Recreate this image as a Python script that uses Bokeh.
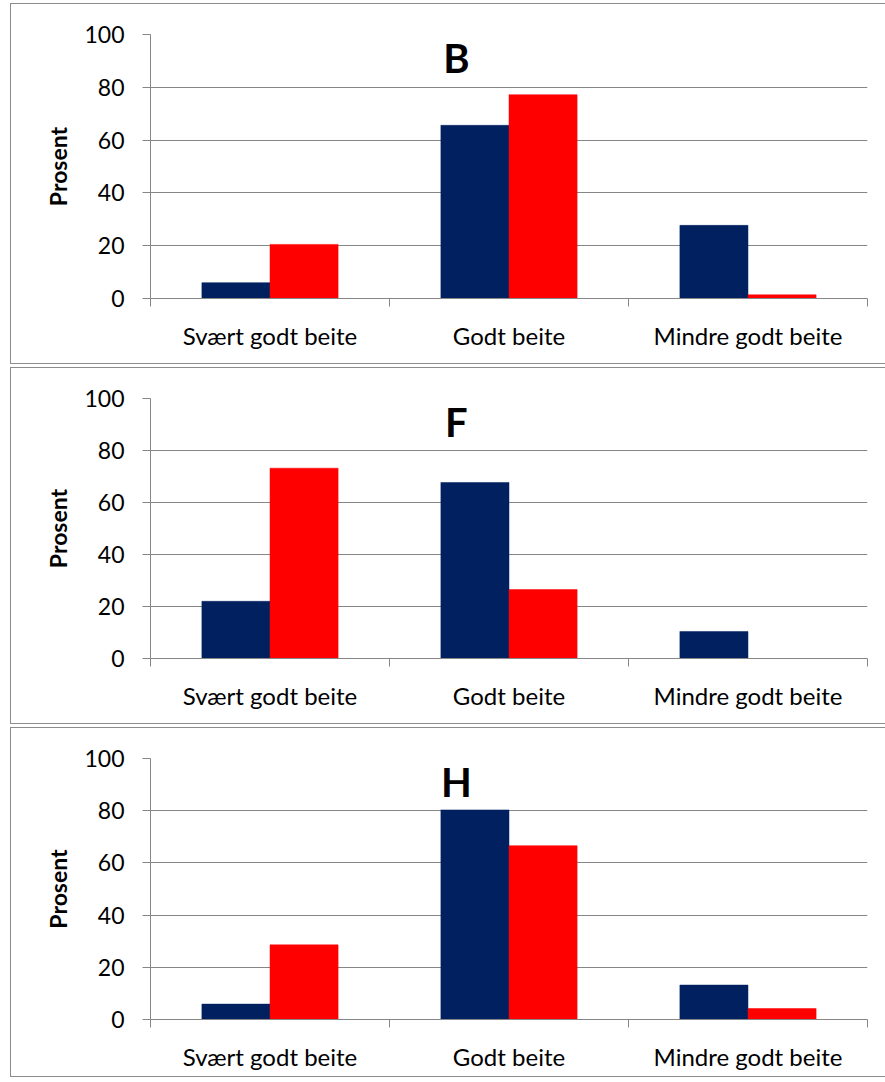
from bokeh.plotting import figure
from bokeh.layouts import column
from bokeh.models import FixedTicker, Range1d
from bokeh.core.properties import value
from bokeh.embed import file_html
from bokeh.resources import INLINE

categories = ["Svært godt beite", "Godt beite", "Mindre godt beite"]
panel_titles = ["B", "F", "H"]
navy_B = [6, 65.6, 27.7]
red_B = [20.5, 77.2, 1.4]
navy_F = [22, 67.7, 10.4]
red_F = [73.2, 26.5, 0]
navy_H = [5.9, 80.3, 13.2]
red_H = [28.6, 66.6, 4.2]
y_ticks = [0, 20, 40, 60, 80, 100]

NAVY = "#002060"
RED = "#FF0000"
GRID = "#868686"
BORDER = "1.5px solid #8c8c8c"
FONT = "Lato"

def make_panel(title, navy, red, height, bottom):
    p = figure(width=875, height=height, output_backend="svg", toolbar_location=None,
               x_range=Range1d(0, 3), y_range=Range1d(0, 100),
               min_border_left=139, min_border_right=19, min_border_top=30,
               min_border_bottom=bottom)
    p.outline_line_color = None
    p.background_fill_color = "white"
    p.border_fill_color = "white"
    p.styles = {"border-top": BORDER, "border-left": BORDER,
                "border-bottom": BORDER, "margin-left": "10px"}
    xs = [i + 0.5 for i in range(len(categories))]
    p.vbar(x=[x - 0.1425 for x in xs], top=navy, width=0.285, bottom=0,
           fill_color=NAVY, line_color=NAVY, line_width=0.5)
    p.vbar(x=[x + 0.1425 for x in xs], top=red, width=0.285, bottom=0,
           fill_color=RED, line_color=RED, line_width=0.5)
    p.text(x=[1.28], y=[91], text=[title], text_font=value(FONT),
           text_font_style="bold", text_font_size="40px",
           text_align="center", text_baseline="middle", text_color="black")
    # x axis
    p.xaxis.ticker = FixedTicker(ticks=xs, minor_ticks=[0, 1, 2, 3])
    p.xaxis.major_label_overrides = {x: c for x, c in zip(xs, categories)}
    p.xaxis.major_tick_line_color = None
    p.xaxis.major_tick_out = 0
    p.xaxis.major_tick_in = 0
    p.xaxis.minor_tick_out = 8
    p.xaxis.minor_tick_in = 0
    p.xaxis.minor_tick_line_color = GRID
    p.xaxis.axis_line_color = GRID
    p.xaxis.major_label_text_font = FONT
    p.xaxis.major_label_text_font_size = "24px"
    p.xaxis.major_label_text_color = "black"
    p.xaxis.major_label_standoff = 14
    # y axis
    p.yaxis.ticker = FixedTicker(ticks=y_ticks)
    p.yaxis.minor_tick_line_color = None
    p.yaxis.major_tick_out = 8
    p.yaxis.major_tick_in = 0
    p.yaxis.major_tick_line_color = GRID
    p.yaxis.axis_line_color = GRID
    p.yaxis.major_label_text_font = FONT
    p.yaxis.major_label_text_font_size = "23px"
    p.yaxis.major_label_text_color = "black"
    p.yaxis.major_label_standoff = 18
    p.yaxis.axis_label = "Prosent"
    p.yaxis.axis_label_text_font = FONT
    p.yaxis.axis_label_text_font_style = "bold"
    p.yaxis.axis_label_text_font_size = "23px"
    p.yaxis.axis_label_text_color = "black"
    p.yaxis.axis_label_standoff = 9
    p.xgrid.grid_line_color = None
    p.ygrid.ticker = FixedTicker(ticks=y_ticks)
    p.ygrid.grid_line_color = GRID
    p.ygrid.grid_line_width = 1
    return p

p1 = make_panel(panel_titles[0], navy_B, red_B, 361, 67)
p2 = make_panel(panel_titles[1], navy_F, red_F, 357, 67)
p3 = make_panel(panel_titles[2], navy_H, red_H, 350, 59)
layout = column(p1, p2, p3, spacing=3, styles={"margin-top": "3px"})

open("out.html", "w").write(file_html(layout, INLINE))
